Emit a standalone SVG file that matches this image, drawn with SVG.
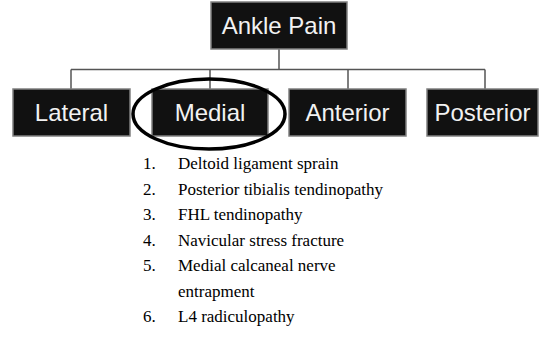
<svg xmlns="http://www.w3.org/2000/svg" width="550" height="355" viewBox="0 0 550 355">
<style>
.box{fill:#111111;stroke:#808080;stroke-width:1.5}
.lbl{font-family:"Liberation Sans",Arial,sans-serif;font-size:24px;fill:#f2f2f2;text-anchor:middle}
.conn{fill:none;stroke:#555555;stroke-width:1.5}
.li{font-family:"Liberation Serif","Times New Roman",serif;font-size:17px;fill:#000}
</style>
<rect width="550" height="355" fill="#ffffff"/>
<g id="connectors">
<path class="conn" d="M279 49V69.5M71 69.5H485M71 69.5V89M210 69.5V89M348 69.5V89M485 69.5V89"/>
</g>
<g id="ankle-pain"><rect class="box" x="211" y="2" width="136" height="47"/><text class="lbl" x="279" y="34">Ankle Pain</text></g>
<g id="lateral"><rect class="box" x="13" y="89" width="117" height="47"/><text class="lbl" x="71.5" y="121">Lateral</text></g>
<g id="medial"><rect class="box" x="152" y="89" width="116" height="47"/><text class="lbl" x="210" y="121">Medial</text></g>
<g id="anterior"><rect class="box" x="289" y="89" width="117" height="47"/><text class="lbl" x="347.5" y="121">Anterior</text></g>
<g id="posterior"><rect class="box" x="427" y="89" width="111" height="47"/><text class="lbl" x="482.5" y="121">Posterior</text></g>
<ellipse id="highlight" cx="209" cy="114" rx="76" ry="35" fill="none" stroke="#000" stroke-width="3.5"/>
<g id="list" class="li">
<text x="143" y="169">1.</text><text x="178" y="169">Deltoid ligament sprain</text>
<text x="143" y="194.5">2.</text><text x="178" y="194.5">Posterior tibialis tendinopathy</text>
<text x="143" y="220">3.</text><text x="178" y="220">FHL tendinopathy</text>
<text x="143" y="245.5">4.</text><text x="178" y="245.5">Navicular stress fracture</text>
<text x="143" y="271">5.</text><text x="178" y="271">Medial calcaneal nerve</text>
<text x="178" y="296.5">entrapment</text>
<text x="143" y="322">6.</text><text x="178" y="322">L4 radiculopathy</text>
</g>
</svg>
